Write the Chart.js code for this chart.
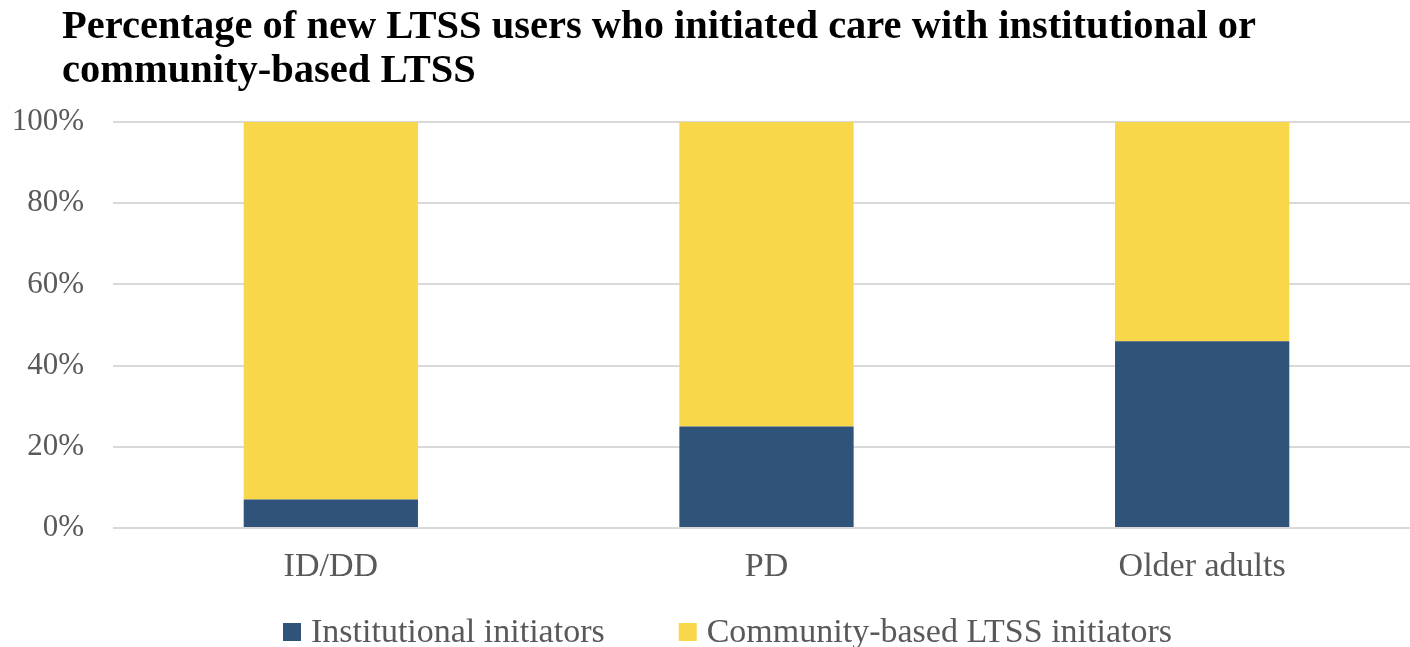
<!DOCTYPE html>
<html>
<head>
<meta charset="utf-8">
<script src="https://cdn.jsdelivr.net/npm/chart.js@4.4.1/dist/chart.umd.min.js"></script>
<style>
  html, body { margin: 0; padding: 0; background: #fff; overflow: hidden; }
  #wrap { width: 1420px; height: 647px; }
</style>
</head>
<body>
<div id="wrap"><canvas id="chart"></canvas></div>
<script>
// Share of new LTSS users by setting where care started
const categories = ['ID/DD', 'PD', 'Older adults'];
const institutional = [7, 25, 46];
const community = [93, 75, 54];
const yTicks = [0, 20, 40, 60, 80, 100];
const titleLines = ['Percentage of new LTSS users who initiated care with institutional or', 'community-based LTSS'];

const SERIF = "'Liberation Serif', 'DejaVu Serif', serif";
const GREY = '#595959';

// Two-line bold heading drawn at a fixed left inset
const headingPlugin = {
  id: 'heading',
  afterDraw(chart) {
    const ctx = chart.ctx;
    ctx.save();
    ctx.fillStyle = '#000';
    ctx.font = 'bold 40.5px ' + SERIF;
    ctx.textAlign = 'left';
    ctx.textBaseline = 'alphabetic';
    ctx.fillText(titleLines[0], 62, 38);
    ctx.fillText(titleLines[1], 62, 82);
    ctx.restore();
  }
};

// Legend row along the bottom: square swatch, then the series name
const bottomLegend = {
  id: 'bottomLegend',
  afterDraw(chart) {
    const ctx = chart.ctx;
    const box = 18, textGap = 10, itemGap = 74, baseline = 642;
    ctx.save();
    ctx.font = '34px ' + SERIF;
    const items = chart.data.datasets.map(ds => ({
      label: ds.label,
      color: ds.backgroundColor,
      w: box + textGap + ctx.measureText(ds.label).width
    }));
    const total = items.reduce((s, it) => s + it.w, 0) + itemGap * (items.length - 1);
    let x = 727.5 - total / 2;
    items.forEach(it => {
      ctx.fillStyle = it.color;
      ctx.fillRect(x, baseline - 19, box, box);
      ctx.fillStyle = GREY;
      ctx.textAlign = 'left';
      ctx.textBaseline = 'alphabetic';
      ctx.fillText(it.label, x + box + textGap, baseline);
      x += it.w + itemGap;
    });
    ctx.restore();
  }
};

new Chart(document.getElementById('chart').getContext('2d'), {
  type: 'bar',
  data: {
    labels: categories,
    datasets: [
      {
        label: 'Institutional initiators',
        data: institutional,
        backgroundColor: '#2F5379',
        barPercentage: 0.4,
        categoryPercentage: 1
      },
      {
        label: 'Community-based LTSS initiators',
        data: community,
        backgroundColor: '#F8D74B',
        barPercentage: 0.4,
        categoryPercentage: 1
      }
    ]
  },
  plugins: [headingPlugin, bottomLegend],
  options: {
    responsive: true,
    maintainAspectRatio: false,
    animation: false,
    layout: { padding: { left: 0, right: 0, top: 122, bottom: 39 } },
    plugins: {
      title: { display: false },
      legend: { display: false },
      tooltip: { enabled: false }
    },
    scales: {
      x: {
        stacked: true,
        grid: { display: false, drawTicks: false },
        border: { display: false },
        afterFit: axis => { axis.height = 80; },
        ticks: { color: GREY, font: { family: SERIF, size: 34 }, padding: 19 }
      },
      y: {
        stacked: true,
        min: 0,
        max: 100,
        afterBuildTicks: axis => { axis.ticks = yTicks.map(v => ({ value: v })); },
        afterFit: axis => { axis.width = 113; },
        grid: { color: '#D9D9D9', lineWidth: 2, drawTicks: false },
        border: { display: false },
        ticks: {
          color: GREY,
          font: { family: SERIF, size: 31 },
          padding: 29,
          callback: v => v + '%'
        }
      }
    }
  }
});
</script>
</body>
</html>
